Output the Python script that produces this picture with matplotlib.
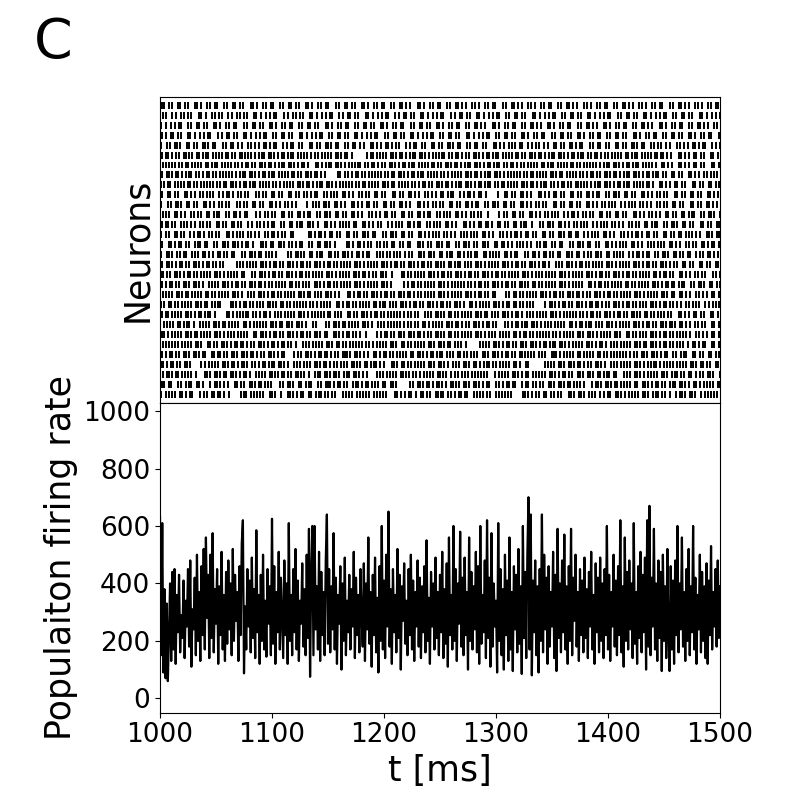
import matplotlib
matplotlib.use("Agg")
import matplotlib.pyplot as plt
import numpy as np

# ---------------- data (read/estimated from the reference) ----------------
t_start = 1000
t_end = 1500

# Population firing rate [Hz], one sample per ms from 1000 to 1500 ms
rate = [
    630, 150, 610, 90, 380, 70, 330, 60, 220, 400,
    130, 440, 170, 450, 120, 360, 230, 430, 160, 290,
    210, 410, 140, 340, 250, 450, 180, 480, 110, 310,
    240, 420, 150, 500, 200, 370, 130, 460, 220, 520,
    170, 560, 280, 430, 140, 500, 210, 575, 160, 380,
    260, 450, 120, 390, 220, 510, 170, 360, 130, 440,
    190, 480, 240, 400, 150, 520, 200, 430, 270, 370,
    130, 460, 220, 540, 620, 87, 320, 170, 450, 250,
    410, 160, 490, 210, 380, 140, 585, 230, 360, 120,
    430, 200, 500, 170, 340, 145, 450, 260, 390, 150,
    625, 190, 460, 120, 370, 230, 510, 170, 420, 280,
    140, 480, 220, 400, 120, 610, 200, 360, 150, 450,
    230, 520, 170, 410, 130, 340, 260, 470, 180, 380,
    150, 500, 210, 590, 75, 430, 600, 150, 600, 240,
    390, 170, 510, 130, 440, 220, 370, 150, 480, 640,
    190, 450, 160, 390, 240, 575, 170, 420, 120, 360,
    260, 460, 100, 400, 200, 490, 150, 340, 230, 430,
    170, 380, 250, 510, 140, 420, 220, 360, 160, 450,
    280, 180, 470, 130, 400, 240, 560, 190, 370, 110,
    430, 220, 490, 160, 350, 90, 460, 200, 600, 170,
    410, 140, 500, 250, 650, 180, 380, 120, 450, 230,
    360, 160, 520, 210, 430, 100, 390, 270, 470, 190,
    340, 150, 450, 220, 500, 170, 410, 130, 370, 250,
    480, 180, 420, 140, 390, 230, 460, 160, 550, 200,
    350, 120, 440, 250, 400, 170, 490, 210, 370, 150,
    430, 230, 510, 140, 380, 190, 470, 110, 560, 220,
    360, 170, 600, 200, 450, 130, 400, 260, 580, 180,
    420, 150, 490, 220, 370, 100, 560, 200, 440, 170,
    390, 240, 510, 160, 460, 120, 600, 190, 360, 230,
    480, 140, 620, 210, 420, 110, 575, 180, 400, 250,
    340, 90, 610, 200, 450, 150, 380, 100, 500, 220,
    410, 130, 560, 170, 370, 95, 460, 240, 430, 160,
    520, 190, 390, 85, 600, 210, 440, 140, 500, 700,
    170, 640, 80, 410, 230, 480, 150, 390, 90, 450,
    200, 640, 160, 500, 240, 420, 120, 460, 180, 370,
    250, 510, 140, 430, 95, 590, 210, 400, 160, 480,
    230, 570, 170, 390, 120, 460, 200, 590, 150, 420,
    270, 500, 180, 370, 130, 450, 220, 410, 160, 490,
    210, 380, 140, 440, 250, 510, 170, 360, 120, 470,
    230, 420, 160, 490, 200, 400, 140, 450, 220, 600,
    170, 430, 130, 370, 250, 500, 180, 410, 150, 460,
    220, 620, 160, 390, 110, 560, 200, 440, 170, 480,
    240, 400, 140, 610, 190, 370, 120, 460, 210, 510,
    160, 430, 230, 490, 100, 620, 180, 670, 150, 420,
    250, 590, 170, 400, 130, 480, 210, 440, 95, 500,
    200, 390, 140, 520, 230, 95, 460, 170, 410, 120,
    480, 220, 600, 160, 400, 240, 560, 180, 370, 130,
    450, 200, 520, 150, 390, 230, 600, 170, 420, 120,
    360, 240, 500, 160, 440, 200, 390, 140, 470, 120,
    410, 220, 530, 170, 370, 250, 450, 180, 480, 210,
    390,
]

# Raster: one string per neuron, each character is an inter-spike interval
# in ms (base-36 digit), the first one measured from t_start.
spike_isis = [
    "2433252342733424235a32433236235623342524323342733253233432338234325423352324334232633243532332b23342524333723423432534252334233423432334632342354233242333423"
    "342352433623423524334273423524332634235243324",
    "3242634325237423346233523324238342352432634223423353234233342523c34233243233522342342334263342326424333523423324234732342332423342523342334324233523423342342"
    "253423624332534237243352423624335243263423524",
    "43233242334823423324233423623342324233423345324233234324233492342334232433423342325334234233237423342334243233423342335234234233242733423342334234323342533"
    "423624352432634253423724352436243352436243524",
    "2234233423a34233423324323433423324233623423423324334234233423323472342334233423423352342342433233423342362f233423423324334233623423342334232343234233423423"
    "352436243524372435243263423524362435243724352",
    "33423342342332624233423423324334233429334233423243342234233452342334233424233423324334233423523423342334233234336223423342423342334233234334234233425343"
    "262435243724352436243524326342352436243524372",
    "42332342334236233423342324334233423423347234233423423342332433423342352334233423423324334d23342334233423423342332423342334233423523423342332423342334234"
    "523426243524372435243624352432634235243624352",
    "323423342332423342334234233624233423342334233423426233423345a3423342342332433423342334233423342352334234233423324334233423423342334236233423423342334233"
    "362435243724352436243524326342352436243524372",
    "52334233246233423324233523432334233242342337293423324233423362342332433425234233423324334233423383342332423342342335234233243342334233423342334233234"
    "243524362435243263423524372435243624352432634",
    "33242334233423324b2342332433423523423342334233242433623342334233423324334272342334233423342332433423342352342334233423324334233423342334233423342342"
    "724352436243524326342352436243524372435243624",
    "2342334233423324332923342334234233423342332433423362342334233423324334233423342334233423362342334233424233423b423342334233423243342334233423423342334"
    "352432634235243624352437243524362435243263423",
    "42334233242334233423342336234233423342334233243342334823423342334233423324334233423342334233423342a34233423342334233423324334233423342334233423342342"
    "524362435243724352432634235243624352437243524",
    "33423342342336233423342334233243342334233423523342334233423342334233c3423342334233423324334233423342334233423342334233423362342334233423342334233423"
    "243263423524362435243724352436243524326342352",
    "22334233423342334233423342734233423342334233423342334233423324334235923342334233423342334233423342334233423342342334233423342334233423342334233423423"
    "362435243724352436243524326342352436243524372",
    "3423342334233423342d23423342334233423342334233423342334233423342334233423342334233423324334233423342334233423342372342334233423342334233423342334233"
    "435243624352432634235243724352436243524326342",
    "25234332623424352334273423325234a3423352432623342335234272342432533623423524325234332624233523427342352334262342533423524332634234253423523342633424"
    "352436243524372435243263423524362435243724352",
    "3623424353242635234233424723425234334263524234b235234262434253427234352342634234352362424352343624253427342342536243423524362342352436243523424362342"
    "243263423524372435243624352432634235243624352",
    "24352426342352437234235243624234352e2342352436243523427342352436243423524362342352437243423524362435234242634235243724342352436243425234362342352436"
    "524372435243624352432634235243624352437243524",
    "3324262343524362335242735243426352432523462435233426243527342352432634235243724352423624352432573423524352432634235243624352432634235243724352432634"
    "362435243263423524372435243624352432634235243",
    "4235243624352432634235283524362435243263423524352437243524362435243263423524352436a4352436243524326342352436243524372435243624352432634235243624352"
    "437243524362435243263423524362435243724352436",
    "2634235243624352437243524362435243a62342352436243524362435243724352436243524326342352436243524372435243624352432634235243624352437243524362435243263"
    "423524362435243724352436243524326342352436243",
    "3524362435243263423524372435243624352432634235243624352437243524362435243263423524b6243524372435243624352432634235243624352437243524362435243263423"
    "524362435243724352436243524326342352436243524",
    "23324332423342332433242334233243324334233423324332423342332433242334233243324334233423324332423342332433242334233243324334233423324332423342332433242"
    "362435243724352436243524326342352436243524372",
    "34233243324334233423324332423342332433242334233243c2433423342332433242334233243324334233423324332423342332433242334233243324334233423324332423342332"
    "435243624352432634235243724352436243524326342",
    "42332433242334233243324334233423324332423342372433242334233243324334233423324332423342332433242334233243324334233423324332423342332433242334233243324"
    "524362435243724352432634235243624352437243524",
    "3324334233423324332423342332433242334233243324334233423324e32423342332433242334233243324334233423324332423342332433242334233243324334233423324332423"
    "243724352436243524326342352436243524372435243",
    "25342362435234273425362435234263425372435234263425362435234273425362435234263425372435234263425362435234273425362435234263425372435234263425362435"
    "362435243263423524372435243624352432634235243",
    "33524362453427352436245342635243724534263524362453427352436245342635243724534263524362453427352436245342635243724534263524362453427352436245342635"
    "243724352436243524326342352436243524372435243",
    "2453426352436245342735243624534263524372453426352436245342735243624534263524372453426352436245342735243624534263524372453426352436245342735243624"
    "524362435243263423524372435243624352432634235",
    "42635243724534263524362453427352436245342635243724534263524362453427352436245342635243724534263524362453427352436245342635243724534263524362453427"
    "352437243524362435243263423524362435243724352",
    "3243524362453426352437245342635243624534273524362453426352437245342635243624534273524362453426352437245342635243624534273524362453426352437245342635"
    "243624352432634235243724352436243524326342352",
]

# ---------------- derived spike times ----------------
spike_times = []
for s in spike_isis:
    isi = np.array([int(c, 36) for c in s], dtype=float)
    spike_times.append(t_start - 1 + np.cumsum(isi))

t = np.arange(t_start, t_start + len(rate))

# ---------------- figure ----------------
plt.rcParams['font.family'] = ['DejaVu Sans']
fig = plt.figure(figsize=(8, 8), dpi=100)

top_px, mid_px, bot_px = 96.7, 403.3, 712.7
ax1 = fig.add_axes([0.2, 1 - mid_px / 800, 0.7, (mid_px - top_px) / 800])
ax2 = fig.add_axes([0.2, 1 - bot_px / 800, 0.7, (bot_px - mid_px) / 800])

ax1.eventplot(spike_times, lineoffsets=np.arange(len(spike_times)),
              linelengths=0.7, linewidths=1.4, colors='k')
ax1.set_xlim(t_start, t_end)
ax1.set_ylim(-0.9, len(spike_times) - 1 + 0.85)
ax1.set_xticks([])
ax1.set_yticks([])
ax1.set_ylabel('Neurons', fontsize=25)

ax2.plot(t, rate, color='k', lw=1.6)
ax2.set_xlim(t_start, t_end)
ax2.set_ylim(-50, 1027)
ax2.set_xticks([1000, 1100, 1200, 1300, 1400, 1500])
ax2.set_yticks([0, 200, 400, 600, 800, 1000])
ax2.tick_params(labelsize=19)
ax2.set_xlabel('t [ms]', fontsize=25)
ax2.set_ylabel('Populaiton firing rate', fontsize=25)

fig.text(0.042, 0.927, 'C', fontsize=40)

fig.savefig('out.png', dpi=100)
